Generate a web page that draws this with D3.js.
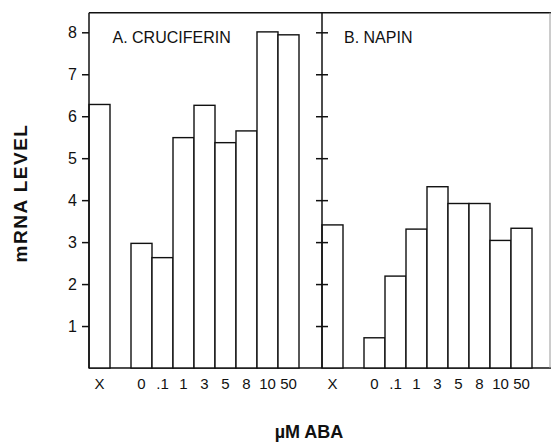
<!DOCTYPE html>
<html>
<head>
<meta charset="utf-8">
<script src="https://cdn.jsdelivr.net/npm/d3@7"></script>
<style>
  body { margin: 0; background: #fff; }
  svg { display: block; }
  text { font-family: "Liberation Sans", Arial, sans-serif; fill: #111; }
</style>
</head>
<body>
<svg id="chart" width="551" height="444"></svg>
<script>
'use strict';

// dose categories (µM ABA), "X" = control, blank slots keep the gaps
var doses = ["X", "", "0", ".1", "1", "3", "5", "8", "10", "50", " "];
var cruciferin = [6.28, null, 2.97, 2.63, 5.49, 6.26, 5.37, 5.65, 8.01, 7.94, null];
var napin = [3.41, null, 0.72, 2.19, 3.31, 4.32, 3.92, 3.92, 3.04, 3.33, null];
var yTicks = [1, 2, 3, 4, 5, 6, 7, 8];

var svg = d3.select("#chart");

var y = d3.scaleLinear().domain([0, 8]).range([368, 32.3]);

var panels = [
    {name: "A. CRUCIFERIN", values: cruciferin, x: d3.scaleBand().domain(doses).range([89, 320])},
    {name: "B. NAPIN", values: napin, x: d3.scaleBand().domain(doses).range([322, 553])}
];

// frame: top line, baseline and right edge
svg.append("line").attr("x1", 89).attr("x2", 551).attr("y1", 12.7).attr("y2", 12.7)
   .attr("stroke", "#111").attr("stroke-width", 1.5);
svg.append("line").attr("x1", 89).attr("x2", 551).attr("y1", y(0)).attr("y2", y(0))
   .attr("stroke", "#111").attr("stroke-width", 1.5);
svg.append("line").attr("x1", 550).attr("x2", 550).attr("y1", 12.7).attr("y2", y(0))
   .attr("stroke", "#999").attr("stroke-width", 1);

panels.forEach(function(p, pi) {
    var g = svg.append("g");
    var data = doses.map((d, i) => ({dose: d, value: p.values[i]})).filter(d => d.value !== null);

    g.selectAll("rect")
     .data(data)
     .enter()
     .append("rect")
     .attr("x", d => p.x(d.dose))
     .attr("y", d => y(d.value))
     .attr("width", p.x.bandwidth())
     .attr("height", d => y(0) - y(d.value))
     .attr("fill", "#fff")
     .attr("stroke", "#111")
     .attr("stroke-width", 1.4);

    // dose labels under each bar
    g.selectAll("text.dose")
     .data(data)
     .enter()
     .append("text")
     .classed("dose", true)
     .attr("x", d => p.x(d.dose) + p.x.bandwidth() / 2)
     .attr("y", 389)
     .attr("text-anchor", "middle")
     .attr("font-size", 15)
     .text(d => d.dose);

    g.append("text")
     .attr("x", pi == 0 ? 112.5 : 344)
     .attr("y", 43)
     .attr("font-size", 16)
     .text(p.name);

    // vertical axis line with ticks
    var x0 = p.x.range()[0];
    var axis = pi == 0 ? d3.axisLeft(y).tickValues(yTicks).tickSize(7).tickPadding(5)
                       : d3.axisLeft(y).tickValues(yTicks).tickSize(6).tickFormat("");
    var ag = svg.append("g")
                .attr("transform", "translate(" + x0 + ",0)")
                .call(axis);
    ag.select(".domain").remove();
    ag.selectAll(".tick line").attr("stroke", "#111").attr("stroke-width", 1.5);
    if (pi == 1) ag.selectAll(".tick line").attr("x1", 6);
    ag.selectAll(".tick text").attr("font-size", 16).attr("fill", "#111")
      .attr("font-family", "Liberation Sans, Arial, sans-serif");
    svg.append("line").attr("x1", x0).attr("x2", x0).attr("y1", 12.7).attr("y2", y(0))
       .attr("stroke", "#111").attr("stroke-width", 1.5);
});

// axis titles
svg.append("text")
   .attr("transform", "translate(27,193) rotate(-90)")
   .attr("text-anchor", "middle")
   .attr("font-size", 19)
   .attr("font-weight", "bold")
   .attr("letter-spacing", 1.5)
   .text("mRNA LEVEL");

svg.append("text")
   .attr("x", 309)
   .attr("y", 438)
   .attr("text-anchor", "middle")
   .attr("font-size", 18)
   .attr("font-weight", "bold")
   .text("\u00b5M ABA");
</script>
</body>
</html>
